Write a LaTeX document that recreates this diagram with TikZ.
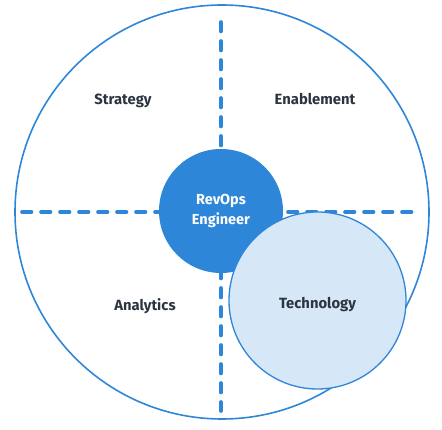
\documentclass[tikz,border=0pt]{standalone}
\usepackage{fontspec}
\setmainfont{Fira Sans}
\usetikzlibrary{positioning}
\definecolor{ringblue}{RGB}{46,134,216}
\definecolor{techfill}{RGB}{214,231,247}
\definecolor{labelink}{RGB}{43,52,64}
\tikzset{
  ring/.style={circle,draw=ringblue,line width=1.6pt,minimum size=414pt,inner sep=0pt},
  divider/.style={draw=ringblue,line width=3.6pt,line cap=round,dash pattern=on 9.5pt off 9.5pt},
  hub/.style={circle,fill=ringblue,minimum size=124pt,inner sep=0pt,text=white,align=center,font=\bfseries\fontsize{14.5}{20.5}\selectfont},
  techcircle/.style={circle,draw=ringblue,line width=1.3pt,fill=techfill,minimum size=177pt,inner sep=0pt,text height=17pt,text depth=0pt,text=labelink,font=\bfseries\fontsize{14.8}{16}\selectfont},
  quadrant/.style={text depth=0pt,text=labelink,font=\bfseries\fontsize{14.8}{16}\selectfont}
}
\begin{document}
\begin{tikzpicture}[x=1pt,y=-1pt]
  \useasboundingbox (0,0) rectangle (442,430);
  \node[ring] (outer) at (222,212) {};
  % dashed cross
  \coordinate (west) at (22,212);
  \coordinate (east) at (412,212);
  \coordinate (north) at (221,22);
  \coordinate (south) at (221,411);
  \draw[divider] (west) -- (east);
  \draw[divider] (north) -- (south);
  \node[quadrant] (strategy) at (123,99) {Strategy};
  \node[quadrant] (enable) at (315,99) {Enablement};
  \node[quadrant] (analytics) at (145,304) {Analytics};
  \node[hub] (revops) at (221,211) {RevOps\\Engineer};
  \node[techcircle] (tech) at (317.5,300.5) {Technology};
\end{tikzpicture}
\end{document}
